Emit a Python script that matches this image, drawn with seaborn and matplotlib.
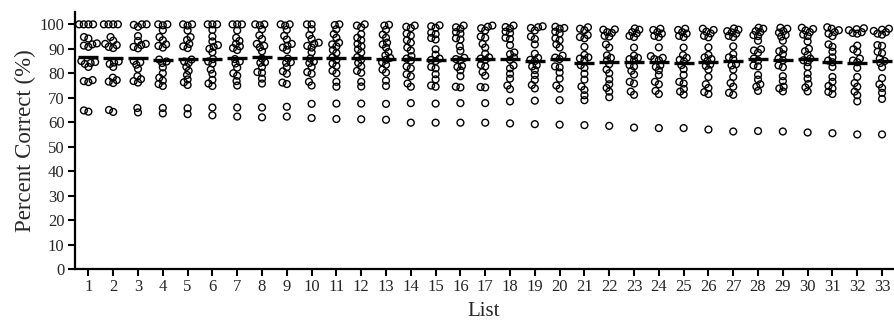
import matplotlib
matplotlib.use("Agg")
import matplotlib.pyplot as plt
import seaborn as sns
import pandas as pd

# Percent correct for each participant, one array per word list
l01 = [100, 100, 100, 100, 94.8, 94.2, 92.2, 91.8, 91.3, 90.8, 85, 84.6, 84.2, 83.8, 82.6, 77.2, 76.8, 76.4, 64.8, 64.3]
l02 = [100, 100, 100, 100, 94.8, 93.3, 92, 91.5, 90.8, 90.3, 84.8, 84.4, 83.8, 82.6, 78.2, 77.2, 76.6, 76, 65, 64.2]
l03 = [100, 100, 99.8, 99.0, 95.2, 93.2, 92, 91.5, 90.8, 90.2, 85, 84.5, 83.5, 81.8, 78.8, 77.6, 76.8, 76.2, 65.8, 64.0]
l04 = [100, 100, 99.6, 97.6, 94.8, 93.5, 91.8, 91.2, 90.5, 85.6, 84.8, 84.2, 82.4, 80, 78.2, 77, 75.6, 74.8, 65.8, 63.6]
l05 = [100, 100, 99.5, 97.5, 94.8, 93.6, 92, 91, 90.3, 85.6, 84.8, 84.2, 82.6, 81, 79.3, 77.5, 76.3, 75.2, 65.7, 63.3]
l06 = [100, 100, 100, 97.7, 95, 93, 91.5, 90.8, 90, 88.6, 85.8, 84.8, 84, 81.5, 79.8, 77.3, 75.8, 74.8, 66, 62.8]
l07 = [100, 100, 100, 97.5, 94.5, 93.2, 92, 91, 90.3, 89.5, 85.8, 84.8, 84, 82.3, 80, 79, 76.8, 75, 66, 62.3]
l08 = [100, 100, 99.6, 98, 95.5, 94, 92, 91.2, 90.6, 89, 86, 84.5, 84.3, 82.6, 80.5, 80.2, 77.8, 75.8, 66, 62]
l09 = [100, 100, 99.5, 97.8, 95.3, 93.8, 92, 91.3, 90.5, 89.5, 86, 84.5, 84.3, 82.5, 80.8, 79.8, 76.2, 75.6, 66.3, 62.3]
l10 = [100, 100, 98, 95.6, 94, 92.5, 92, 91.2, 90.5, 88.6, 86, 84.8, 84.2, 82.6, 80.5, 79.8, 76.5, 75, 67.5, 61.7]
l11 = [100, 99.7, 98, 96, 94.5, 92.5, 91.8, 91, 89.5, 88.3, 86.5, 85.5, 84, 83, 81, 80, 76.5, 74.5, 67.6, 61.3]
l12 = [100, 99.5, 98.8, 96, 94.5, 93.5, 92, 91, 89.8, 88.5, 86.6, 85.6, 84.2, 82.8, 81, 80.2, 76.5, 74.6, 67.6, 61.2]
l13 = [99.8, 99.5, 97.8, 95.8, 94.5, 92.5, 91.8, 90.5, 88.7, 87.3, 86.3, 85.5, 84.5, 83.5, 81.5, 80.3, 77, 74.8, 67.5, 61]
l14 = [99.5, 99, 98.5, 96.2, 95.4, 93.5, 92.5, 90.5, 89.3, 87, 86, 85.2, 82.8, 82, 79.6, 78.8, 75.8, 74.5, 67.8, 59.8]
l15 = [99.6, 99.2, 98.6, 96.6, 96, 94.4, 93.8, 89.8, 87.6, 86, 85.4, 85, 82.6, 82, 79.6, 77.5, 75, 74.5, 67.6, 59.8]
l16 = [99.5, 98.8, 98.2, 96.8, 96.2, 94.3, 93.8, 91, 89.2, 86.3, 85.8, 85.3, 83, 82.6, 81.2, 78.8, 74.5, 74.2, 67.8, 59.8]
l17 = [99.5, 99, 98.4, 97.5, 95, 94.5, 92, 90.5, 88, 86.5, 86, 85.5, 83.4, 82.8, 80.5, 79, 74.4, 74.2, 67.8, 59.8]
l18 = [99.5, 98.9, 98.3, 97, 96.4, 94.5, 94, 91.5, 88.5, 87.8, 86.5, 85.5, 83.2, 82, 79.8, 77.8, 75, 73.5, 68.5, 59.5]
l19 = [99.2, 98.8, 98.5, 97.5, 95, 94, 91.8, 88, 86.3, 85.5, 85, 83.3, 82.8, 81.3, 79.3, 77.3, 75.2, 73.8, 68.8, 59.2]
l20 = [99, 98.5, 98.2, 97, 96.3, 94.3, 93.5, 91.8, 90.5, 87.2, 86.4, 85.8, 82.8, 82.4, 80.3, 77.8, 75, 73.7, 69, 59]
l21 = [98.8, 98.2, 97.6, 95.6, 94.8, 94.3, 90.8, 87.5, 86.5, 86, 85.5, 83.3, 82.2, 79.8, 77.4, 74.6, 73.2, 71, 69, 58.8]
l22 = [97.9, 97.8, 96.8, 96.5, 95.3, 95, 91.8, 90.5, 87.3, 86.3, 85.3, 83.7, 81.5, 80, 77.5, 75.5, 74, 72.5, 70.2, 58.5]
l23 = [98.3, 97.8, 96.8, 96.3, 95.3, 94.8, 90.5, 87.2, 86.3, 85.8, 85.3, 83.3, 82.8, 81, 79.5, 76.5, 75.8, 72.5, 71.2, 57.8]
l24 = [98.2, 97.7, 96.8, 96.2, 95.3, 94.8, 90.6, 87, 86.3, 85.8, 85.3, 83.2, 82.6, 81.2, 79.3, 76.5, 75.5, 72.8, 71.5, 57.6]
l25 = [98.2, 97.7, 96.8, 96.2, 95.3, 94.8, 90.5, 87.4, 86.3, 85.5, 84.8, 83.3, 81.7, 79.3, 76.5, 75.8, 73.6, 72.5, 71.3, 57.6]
l26 = [98.2, 97.7, 97, 96.3, 95.3, 94.7, 90.6, 87.5, 86.5, 85.8, 85, 83.6, 83, 81.5, 78.5, 75.5, 74, 72.3, 71.5, 57]
l27 = [98.3, 97.8, 97.2, 96.7, 96.2, 95.3, 94.8, 91, 87.8, 86.5, 85.8, 83.7, 83.2, 81.5, 78.5, 76, 74.5, 72, 71.2, 56.2]
l28 = [98.6, 98.2, 97.2, 96.8, 95.6, 95.2, 93.3, 89.8, 89.3, 88.4, 86, 85.2, 83.2, 82.8, 79.3, 77.4, 75.5, 74.5, 72.8, 56.4]
l29 = [98.6, 98.2, 97.2, 96.6, 95.6, 95, 93.3, 89.8, 89, 87.8, 86, 85.3, 83.2, 82.5, 78.8, 76.8, 74.5, 73.8, 72.6, 56.2]
l30 = [98.6, 98.1, 97.5, 96.8, 95.8, 95.2, 93, 90, 89, 87.5, 86, 85.3, 84.5, 82.6, 79.8, 77.8, 75.6, 74.2, 72.6, 55.8]
l31 = [98.8, 98.2, 97.6, 96.8, 96.2, 95.2, 91.8, 90.8, 88.8, 86.5, 85.2, 84.5, 82.6, 78.5, 76.5, 74.8, 73.8, 72.4, 71.5, 55.5]
l32 = [98.4, 98, 97.6, 96.8, 96.5, 96.2, 91.3, 89.8, 88.8, 86, 85.2, 84.5, 82.2, 78.5, 76, 74.5, 72.5, 71, 68.5, 55]
l33 = [98.2, 97.8, 97.3, 96.8, 96.2, 95.8, 91.5, 91.2, 88.8, 88.2, 86, 85, 84.2, 82.5, 78, 75.5, 74, 72, 69.5, 55]

scores = [l01, l02, l03, l04, l05, l06, l07, l08, l09, l10, l11,
          l12, l13, l14, l15, l16, l17, l18, l19, l20, l21, l22,
          l23, l24, l25, l26, l27, l28, l29, l30, l31, l32, l33]
list_labels = [str(n) for n in range(1, 34)]

rows = []
for label, vals in zip(list_labels, scores):
    for v in vals:
        rows.append({"List": label, "Percent": v})
df = pd.DataFrame(rows)

sns.set_style("ticks")
plt.rcParams["font.family"] = ["Liberation Serif", "DejaVu Serif"]

fig = plt.figure(figsize=(8.95, 3.27), dpi=100)
ax = fig.add_axes([0.0838, 0.1774, 0.9142, 0.7856])

# swarm layout uses a compact marker size so that neighbouring
# circles overlap, then the circles are drawn a bit larger
sns.swarmplot(data=df, x="List", y="Percent", order=list_labels, ax=ax,
              size=3.2, color="black", linewidth=0, warn_thresh=1.0)
ax.set_xlim(-0.54, 32.45)
ax.set_ylim(0, 105)
fig.canvas.draw()
for coll in ax.collections:
    coll.__dict__.pop("draw", None)
    coll.set_sizes([4.9 ** 2])
    coll.set_facecolor("none")
    coll.set_edgecolor("black")
    coll.set_linewidth(1.0)

# group means drawn as short horizontal bars
sns.pointplot(data=df, x="List", y="Percent", order=list_labels, ax=ax,
              estimator="mean", errorbar=None, linestyle="none",
              marker="_", markersize=15, markeredgewidth=2.4, color="black")

ax.set_xlim(-0.54, 32.45)
ax.set_ylim(0, 105)
ax.set_yticks(range(0, 101, 10))
ax.set_xlabel("List", fontsize=15, labelpad=5)
ax.set_ylabel("Percent Correct (%)", fontsize=16.5, labelpad=3)
ax.tick_params(axis="both", labelsize=12, length=5, width=1.5, color="black", pad=2.5)
for side in ("top", "right"):
    ax.spines[side].set_visible(False)
for side in ("left", "bottom"):
    ax.spines[side].set_linewidth(1.6)
    ax.spines[side].set_color("black")

fig.savefig("out.png", dpi=100)
